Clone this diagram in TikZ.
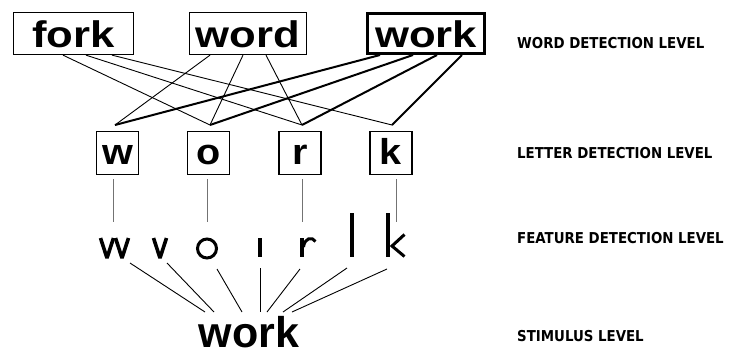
\documentclass[tikz,border=0pt]{standalone}
\usepackage{fontspec}
\usetikzlibrary{calc}
\newfontfamily\wf{Liberation Sans}
\newfontfamily\lab{DejaVu Sans}
\newcommand{\wx}[1]{\scalebox{1.18}[1]{#1}}
\newcommand{\lx}[1]{\scalebox{0.89}[1]{#1}}
\begin{document}
\begin{tikzpicture}[x=1pt,y=-1pt,
  wordbox/.style={draw, line width=1.3pt, inner sep=0pt, minimum width=120pt, minimum height=42pt,
    text height=27pt, text depth=0pt, font=\wf\bfseries\fontsize{37}{37}\selectfont},
  letterbox/.style={draw, line width=1.5pt, inner sep=0pt, minimum width=42pt, minimum height=43pt,
    text height=25pt, text depth=3pt, font=\wf\bfseries\fontsize{36}{36}\selectfont},
  stimtext/.style={inner sep=0pt, font=\wf\bfseries\fontsize{43}{43}\selectfont},
  levellabel/.style={inner sep=0pt, anchor=base west, font=\lab\bfseries\fontsize{15}{15}\selectfont},
  thinlink/.style={line width=0.9pt},
  thicklink/.style={line width=2pt},
  downlink/.style={line width=1pt, black!55},
  feat/.style={line width=3.6pt, line join=bevel},
  stimlink/.style={line width=0.9pt}]
\useasboundingbox (0,0) rectangle (732,354);

% word level
\node[wordbox] (fork) at (73.5,33.5) {\wx{fork}};
\node[wordbox, minimum width=117pt] (word) at (248,33.5) {\wx{word}};
\node[wordbox, line width=3pt, minimum width=117pt, minimum height=40pt] (work) at (426,33.5) {\wx{work}};

% letter level
\node[letterbox] (lw) at (117.5,153) {\scalebox{1.1}[1]{w}};
\node[letterbox] (lo) at (208.5,153) {\scalebox{1.1}[1]{o}};
\node[letterbox] (lr) at (300,153) {\scalebox{1.1}[1]{r}};
\node[letterbox] (lk) at (391,153) {\scalebox{1.1}[1]{k}};

\coordinate (cw) at (115,125);
\coordinate (co) at (210,125);
\coordinate (cr) at (302,125);
\coordinate (ck) at (392,125);

% word -> letter connections
\draw[thinlink] ([xshift=-10.5pt]fork.south) -- (co);
\draw[thinlink] ([xshift=12.5pt]fork.south) -- (cr);
\draw[thinlink] ([xshift=38.5pt]fork.south) -- (ck);
\draw[thinlink] ([xshift=-38pt]word.south) -- (cw);
\draw[thinlink] ([xshift=-5pt]word.south) -- (co);
\draw[thinlink] ([xshift=18pt]word.south) -- (cr);
\draw[thicklink] ([xshift=-46pt]work.south) -- (cw);
\draw[thicklink] ([xshift=-13pt]work.south) -- (co);
\draw[thicklink] ([xshift=11pt]work.south) -- (cr);
\draw[thicklink] ([xshift=36pt]work.south) -- (ck);

% letter -> feature links
\coordinate (fw) at (113,222);
\coordinate (fo) at (207,222);
\coordinate (fr) at (302,222);
\coordinate (fk) at (396,222);
\draw[downlink] ($(fw |- lw.south)+(0,4)$) -- (fw);
\draw[downlink] ($(fo |- lo.south)+(0,4)$) -- (fo);
\draw[downlink] ($(fr |- lr.south)+(0,4)$) -- (fr);
\draw[downlink] ($(fk |- lk.south)+(0,4)$) -- (fk);

% features
\draw[feat] (100.5,238) -- (107,258) -- (113.5,238);
\draw[feat] (115.5,238) -- (122,258) -- (128.5,238);
\draw[feat] (153.5,238) -- (160,258) -- (166.5,238);
\draw[line width=3pt] (207,248.5) circle[radius=9.5];
\draw[feat] (260,238) -- (260,257);
\draw[feat] (302,238) -- (302,257);
\draw[line width=3pt] (303.5,247) .. controls (304.5,238) and (312,236) .. (315.5,241.5);
\draw[feat] (352,213) -- (352,257);
\draw[feat] (388,213) -- (388,257);
\draw[line width=3pt, line join=miter] (404.5,234.5) -- (392,246) -- (404.5,256.5);

% stimulus
\node[stimtext, anchor=base] (stim) at (249,347) {work};

\coordinate (t1) at (130,263); \coordinate (s1) at (205,312);
\coordinate (t2) at (167,263); \coordinate (s2) at (214,312);
\coordinate (t3) at (217,269); \coordinate (s3) at (242,312);
\coordinate (t4) at (260,268); \coordinate (s4) at (260,312);
\coordinate (t5) at (300,269); \coordinate (s5) at (267,312);
\coordinate (t6) at (347,268); \coordinate (s6) at (283,312);
\coordinate (t7) at (387,269); \coordinate (s7) at (292,312);
\foreach \i in {1,...,7} {\draw[stimlink] (t\i) -- (s\i);}

% level labels
\node[levellabel] (l1) at (517,48) {\lx{WORD DETECTION LEVEL}};
\node[levellabel] (l2) at (517,158) {\lx{LETTER DETECTION LEVEL}};
\node[levellabel] (l3) at (517,243) {\lx{FEATURE DETECTION LEVEL}};
\node[levellabel] (l4) at (517,341) {\lx{STIMULUS LEVEL}};
\end{tikzpicture}
\end{document}
